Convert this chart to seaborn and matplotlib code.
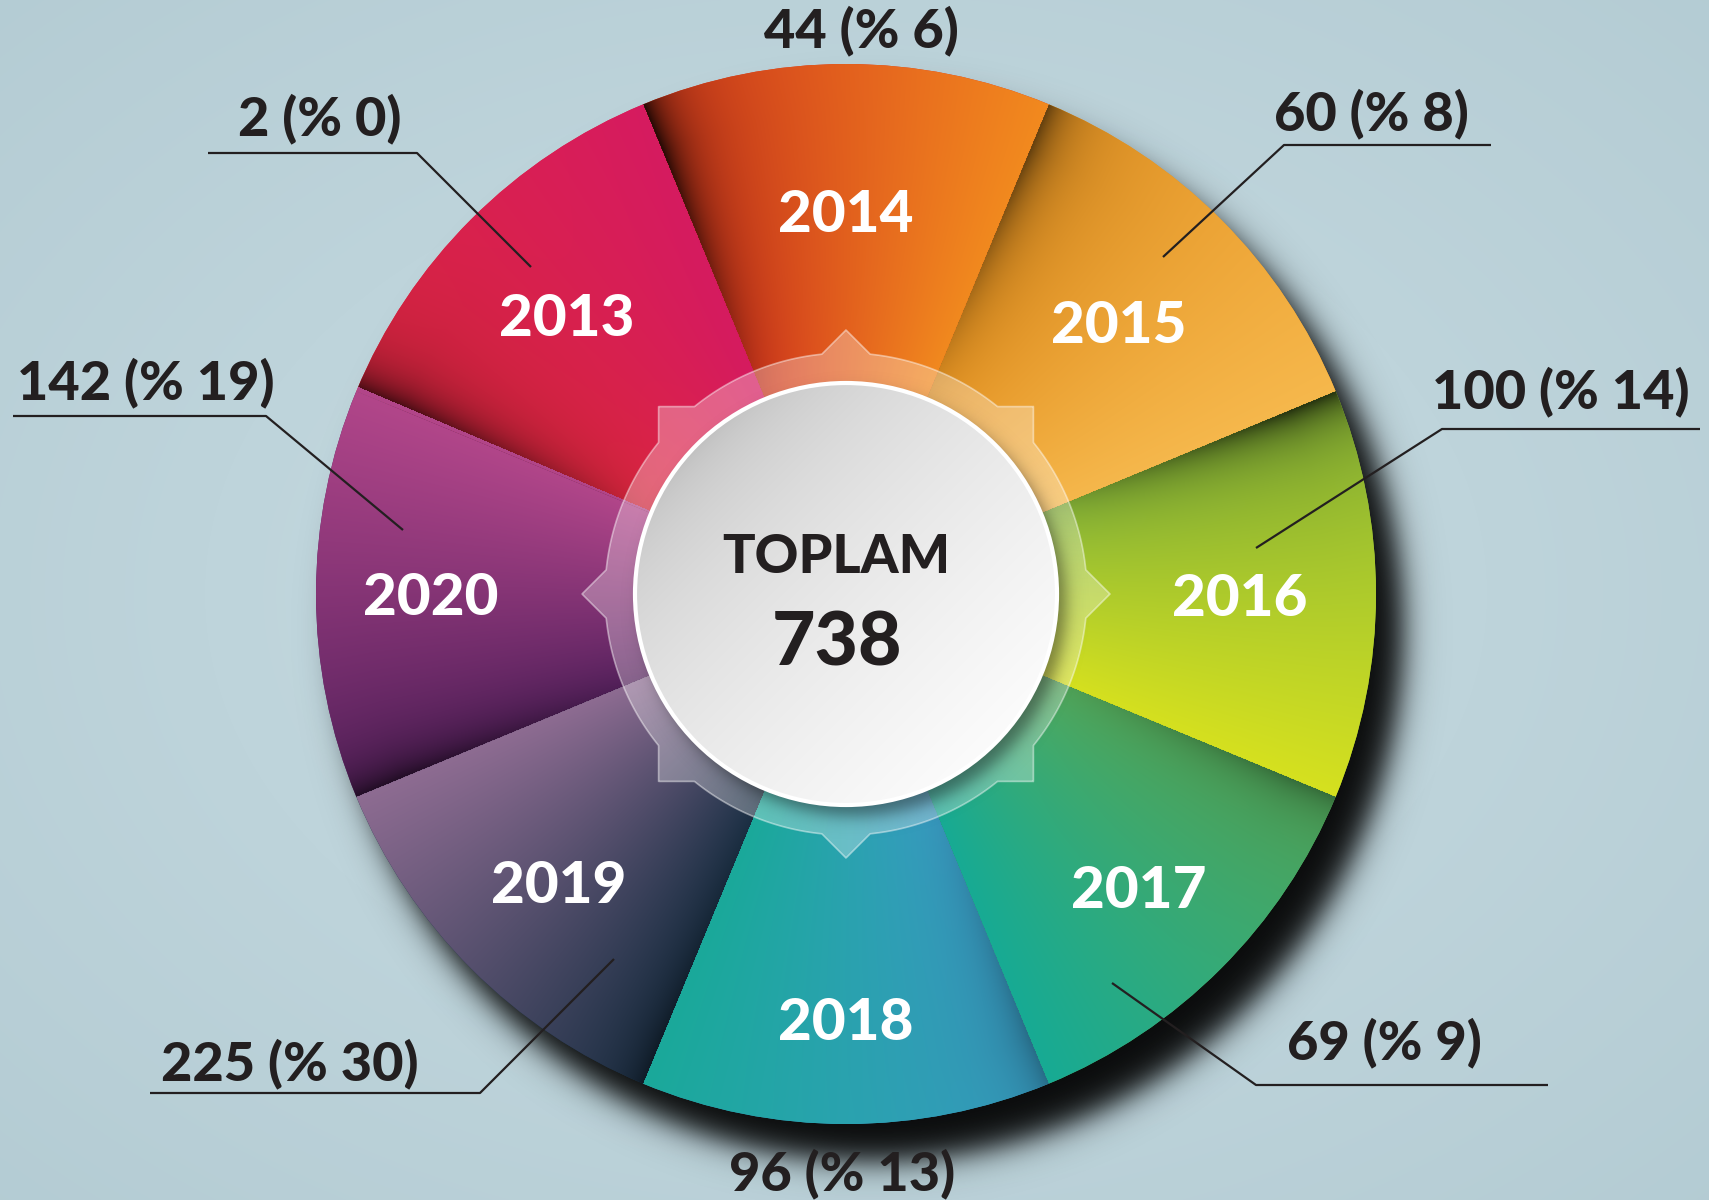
import numpy as np
import matplotlib
matplotlib.use("Agg")
import matplotlib.pyplot as plt
from matplotlib.colors import to_rgb
from matplotlib.patches import Circle, Polygon
import seaborn as sns

# data
years = ["2013", "2014", "2015", "2016", "2017", "2018", "2019", "2020"]
counts = [2, 44, 60, 100, 69, 96, 225, 142]
total_title = "TOPLAM"

# slice colours: start edge -> end edge (going clockwise), and edge shadow strength
start_cols = ["#e3283f", "#dc3a1e", "#e99522", "#8cbc3a", "#55ac5c", "#3a9ec6", "#1e344a", "#5c2464"]
end_cols = ["#d61b60", "#f28a1f", "#f6b84c", "#d6e11f", "#17ab94", "#1aa99a", "#8e6c92", "#b2468a"]
edge_dark = [0.75, 0.8, 0.55, 0.7, 0.35, 0.3, 0.45, 0.6]

# label layout in pixels (y up): year label radius, value text centre, leader polyline
year_r = [395, 384, 386, 394, 414, 425, 407, 415]
label_pos = [(320, 1081), (861, 1169), (1371, 1086), (1561, 808),
             (1384, 157), (842, 26), (290, 136), (146, 817)]
leaders = [
    [(208, 1047), (417, 1047), (531, 933)],
    None,
    [(1491, 1055), (1284, 1055), (1163, 943)],
    [(1700, 771), (1442, 771), (1256, 652)],
    [(1548, 115), (1256, 115), (1112, 217)],
    None,
    [(150, 107), (480, 107), (614, 241)],
    [(13, 784), (266, 784), (403, 670)],
]

sns.set_theme(style="white")
plt.rcParams["font.family"] = ["Lato", "DejaVu Sans"]

W, H = 1709, 1200
cx, cy, R = 846, 606, 530
ink = "#231f20"
heavy = "black"

fig = plt.figure(figsize=(W / 100, H / 100), dpi=100)
ax = fig.add_axes([0, 0, 1, 1])

yy, xx = np.mgrid[0:H, 0:W] + 0.5
dx, dy = xx - cx, yy - cy
rr = np.hypot(dx, dy)

# background
rb = np.clip(np.hypot(dx / W, dy / H) / 0.75, 0, 1)[..., None]
bg = np.array(to_rgb("#c9dde3")) * (1 - rb) + np.array(to_rgb("#b3cbd3")) * rb
ax.imshow(bg, extent=(0, W, 0, H), origin="lower", zorder=0)

# drop shadow of the ring
d = np.hypot(xx - (cx + 26), yy - (cy - 36))
sh = np.zeros((H, W, 4))
sh[..., 3] = 0.95 / (1 + np.exp((d - R - 2) / 9))
ax.imshow(sh, extent=(0, W, 0, H), origin="lower", zorder=1)

# equal slices, one per year
wedges, texts = ax.pie(np.ones(len(years)), labels=years, radius=R, center=(cx, cy),
                       startangle=157.5, counterclock=False, colors=start_cols,
                       labeldistance=0.755, frame=True,
                       wedgeprops=dict(linewidth=0, zorder=2),
                       textprops=dict(color="white", fontsize=42, fontweight=heavy))
for t, w, r in zip(texts, wedges, year_r):
    mid = np.radians((w.theta1 + w.theta2) / 2)
    t.set_position((cx + r * np.cos(mid), cy + r * np.sin(mid)))
    t.set_ha("center")
    t.set_va("center_baseline")
    t.set_zorder(8)

# gradient shading inside each slice
phi = np.degrees(np.arctan2(dy, dx))
tex = np.zeros((H, W, 3))
for w, c0, c1, k in zip(wedges, start_cols, end_cols, edge_dark):
    span = w.theta2 - w.theta1
    a = (w.theta2 - phi) % 360
    inside = a <= span + 0.5
    t = np.clip(a / span, 0, 1)[..., None]
    col = np.array(to_rgb(c0)) * (1 - t) + np.array(to_rgb(c1)) * t
    arc = np.radians(a) * rr
    dark = k * (0.75 * np.exp(-arc / 20) + 0.3 * np.exp(-arc / 80)) * np.clip((rr - 180) / 300, 0, 1)
    col = col * (1 - np.clip(dark, 0, 0.92))[..., None]
    tex[inside] = col[inside]
for w in wedges:
    im = ax.imshow(tex, extent=(0, W, 0, H), origin="lower", zorder=3)
    im.set_clip_path(w)

# translucent gear ring
th = np.linspace(0, 2 * np.pi, 4000)
c, s = np.abs(np.cos(th)), np.abs(np.sin(th))
rg = np.maximum.reduce([np.full_like(th, 241.0), 187.4 / np.maximum(c, s), 264 / (c + s)])
ax.add_patch(Polygon(np.column_stack([cx + rg * np.cos(th), cy + rg * np.sin(th)]), closed=True,
                     facecolor=(1, 1, 1, 0.3), edgecolor=(1, 1, 1, 0.45), lw=1.2, zorder=4))

# shadow of the centre disc
d2 = np.hypot(xx - (cx + 9), yy - (cy - 11))
sh2 = np.zeros((H, W, 4))
sh2[..., 3] = 0.45 / (1 + np.exp((d2 - 211) / 5))
ax.imshow(sh2, extent=(0, W, 0, H), origin="lower", zorder=5)

# centre disc
disc = Circle((cx, cy), 211, facecolor="none", edgecolor="white", lw=3, zorder=7)
ax.add_patch(disc)
u = np.clip((dx - dy) / (np.sqrt(2) * 211), -1, 1)
g = 0.74 + (0.985 - 0.74) * np.sqrt((u + 1) / 2)
im = ax.imshow(np.dstack([g, g, g]), extent=(0, W, 0, H), origin="lower", zorder=6)
im.set_clip_path(disc)

total = sum(counts)
ax.text(cx - 10, 647, total_title, ha="center", va="center_baseline", fontsize=39,
        fontweight=heavy, color=ink, zorder=8)
ax.text(cx - 9, 563, str(total), ha="center", va="center_baseline", fontsize=54,
        fontweight=heavy, color=ink, zorder=8)

# value labels with leader lines
for n, (x, y), line in zip(counts, label_pos, leaders):
    ax.text(x, y, f"{n} (% {round(100 * n / total)})", ha="center", va="center",
            fontsize=39, fontweight=heavy, color=ink, zorder=9)
    if line:
        xs, ys = zip(*line)
        ax.plot(xs, ys, color=ink, lw=1.6, solid_capstyle="butt", zorder=9)

ax.set_xlim(0, W)
ax.set_ylim(0, H)
ax.set_aspect("equal")
ax.axis("off")
fig.savefig("out.png", dpi=100)
